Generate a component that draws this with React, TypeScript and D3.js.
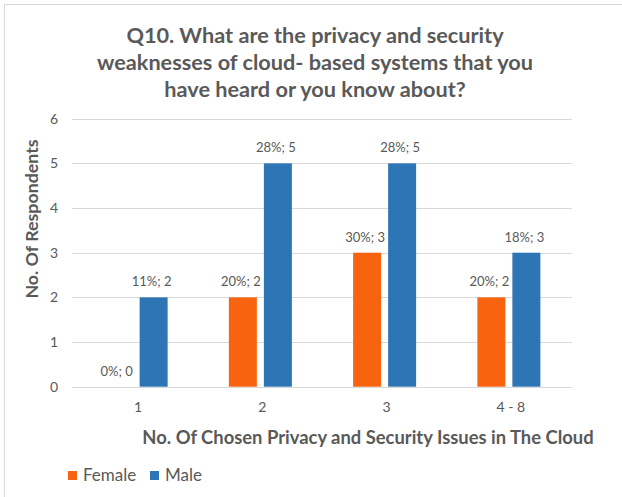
import * as d3 from "d3"

const CATEGORIES = ["1", "2", "3", "4 - 8"]
const SERIES = ["Female", "Male"]
const FEMALE_COUNTS = [0, 2, 3, 2]
const FEMALE_PCT = [0, 20, 30, 20]
const MALE_COUNTS = [2, 5, 5, 3]
const MALE_PCT = [11, 28, 28, 18]
const Y_TICKS = [0, 1, 2, 3, 4, 5, 6]

const TITLE_LINES = [
  "Q10. What are the privacy and security",
  "weaknesses of cloud- based systems that you",
  "have heard or you know about?",
]

const COLORS: Record<string, string> = { Female: "#F8630F", Male: "#2E75B6" }
const GRID = "#D9D9D9"
const INK = "#595959"
const FONT = "Lato, 'Open Sans', sans-serif"

const W = 622
const H = 497
const plot = { left: 74, right: 571, top: 118.7, bottom: 386.7 }

export default function App() {
  const x0 = d3.scaleBand<string>().domain(CATEGORIES).range([plot.left, plot.right])
  const groupW = 63
  const x1 = d3
    .scaleBand<string>()
    .domain(SERIES)
    .range([0, groupW])
    .paddingInner(0.2)
  const y = d3.scaleLinear().domain([0, 6]).range([plot.bottom, plot.top])

  const rows = CATEGORIES.map((c, i) => ({
    cat: c,
    bars: [
      { s: "Female", v: FEMALE_COUNTS[i], p: FEMALE_PCT[i] },
      { s: "Male", v: MALE_COUNTS[i], p: MALE_PCT[i] },
    ],
  }))

  const offset = (x0.bandwidth() - groupW) / 2

  return (
    <svg
      width={W}
      height={H}
      viewBox={`0 0 ${W} ${H}`}
      style={{ position: "absolute", left: 0, top: 0, background: "#fff" }}
      fontFamily={FONT}
    >
      {/* chart frame, only top and left edges fall inside the picture */}
      <rect x={4.5} y={4.5} width={W + 20} height={H + 20} fill="#fff" stroke={GRID} />

      {TITLE_LINES.map((t, i) => (
        <text
          key={i}
          x={315}
          y={43 + i * 27}
          textAnchor="middle"
          fontSize={21.7}
          fontWeight={700}
          fill={INK}
        >
          {t}
        </text>
      ))}

      {/* gridlines + y ticks */}
      {Y_TICKS.map((t) => (
        <g key={t}>
          <line
            x1={plot.left - 2}
            x2={plot.right + 1}
            y1={Math.round(y(t)) + 0.5}
            y2={Math.round(y(t)) + 0.5}
            stroke={GRID}
            strokeWidth={1}
          />
          <text
            x={58}
            y={y(t)}
            dy="0.35em"
            textAnchor="end"
            fontSize={14}
            fill={INK}
          >
            {t}
          </text>
        </g>
      ))}

      {/* bars and data labels */}
      {rows.map((r) => (
        <g key={r.cat} transform={`translate(${(x0(r.cat) ?? 0) + offset},0)`}>
          {r.bars.map((b) => {
            const bx = x1(b.s) ?? 0
            return (
              <g key={b.s}>
                <rect
                  x={bx}
                  y={y(b.v)}
                  width={x1.bandwidth()}
                  height={y(0) - y(b.v)}
                  fill={COLORS[b.s]}
                />
                <text
                  x={bx + x1.bandwidth() / 2 - 2}
                  y={y(b.v) - 11}
                  textAnchor="middle"
                  fontSize={13}
                  fill={INK}
                >
                  {`${b.p}%; ${b.v}`}
                </text>
              </g>
            )
          })}
        </g>
      ))}

      {/* category labels */}
      {CATEGORIES.map((c) => (
        <text
          key={c}
          x={(x0(c) ?? 0) + x0.bandwidth() / 2 + 2}
          y={412}
          textAnchor="middle"
          fontSize={14}
          fill={INK}
        >
          {c}
        </text>
      ))}

      <text x={368} y={444} textAnchor="middle" fontSize={18.4} fontWeight={700} fill={INK}>
        No. Of Chosen Privacy and Security Issues in The Cloud
      </text>

      <text
        transform="translate(38,219) rotate(-90)"
        textAnchor="middle"
        fontSize={17.8}
        fontWeight={700}
        fill={INK}
      >
        No. Of Respondents
      </text>

      {/* legend */}
      <g>
        <rect x={68} y={471} width={9} height={9} fill={COLORS.Female} />
        <text x={83} y={481} fontSize={17} fill={INK}>
          Female
        </text>
        <rect x={150} y={471} width={9} height={9} fill={COLORS.Male} />
        <text x={165} y={481} fontSize={17} fill={INK}>
          Male
        </text>
      </g>
    </svg>
  )
}
